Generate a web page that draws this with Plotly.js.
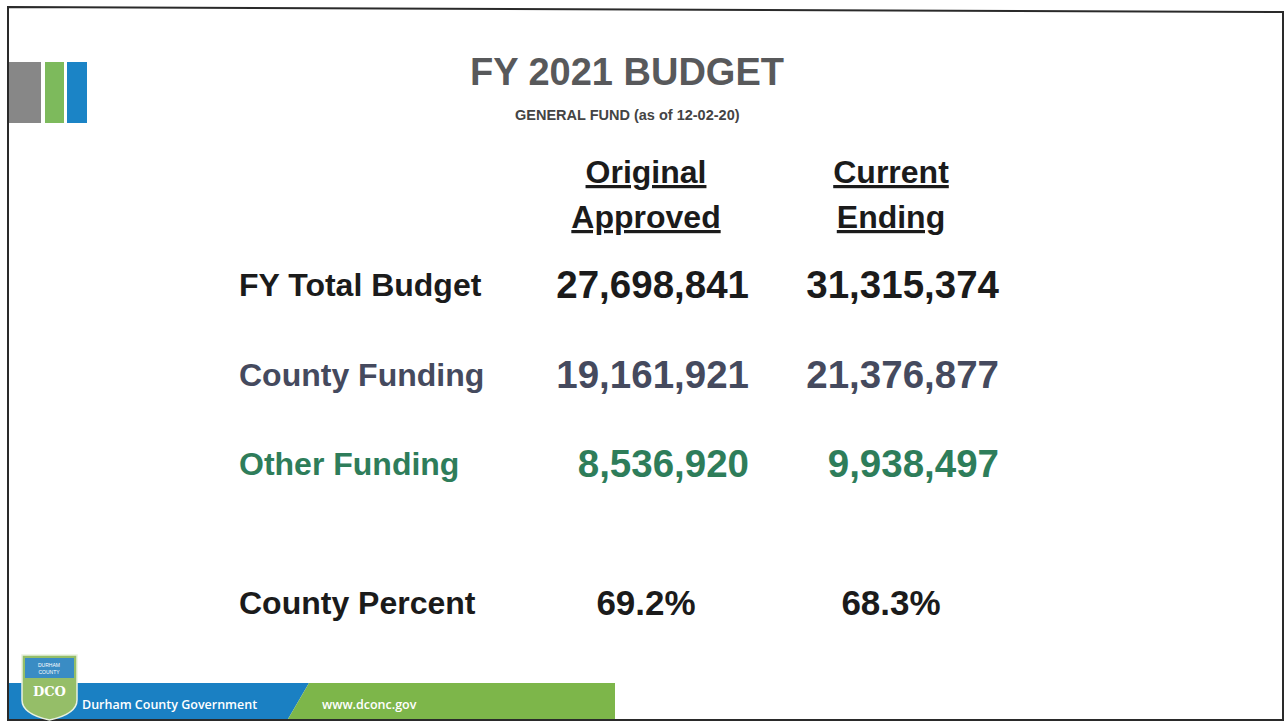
<!DOCTYPE html>
<html>
<head>
<meta charset="utf-8">
<script src="https://cdn.plot.ly/plotly-3.0.1.min.js"></script>
<style>
  html, body { margin: 0; padding: 0; background: #fff; }
  #chart { width: 1286px; height: 724px; }
</style>
</head>
<body>
<div id="chart"></div>
<script>
// values
var rowLabels = ['FY Total Budget', 'County Funding', 'Other Funding'];
var originalApproved = [27698841, 19161921, 8536920];
var currentEnding = [31315374, 21376877, 9938497];
var headerTop = ['Original', 'Current'];
var headerBottom = ['Approved', 'Ending'];
var percentLabel = 'County Percent';
var countyPercent = [69.2, 68.3];

// slide geometry (pixels on a 1286x724 canvas)
var LABEL_X = 239;
var NUM_RIGHT = [749, 999];
var COL_CENTER = [646, 891];
var ROW_Y = [288, 378, 467];
var PCT_Y = 606;
var HEAD_Y = [175, 220];

var rowColors = ['#1b1b1b', '#454a5e', '#2e7d5a'];
var sans = 'Liberation Sans, Arial, sans-serif';

function fmt(v) { return v.toLocaleString('en-US'); }

var traces = [];

// row labels
traces.push({
    x: rowLabels.map(function () { return LABEL_X; }).concat([LABEL_X]),
    y: ROW_Y.concat([PCT_Y]),
    text: rowLabels.concat([percentLabel]),
    mode: 'text',
    textposition: 'middle right',
    textfont: {family: sans, size: 32, weight: 700, color: rowColors.concat(['#1b1b1b'])},
    hoverinfo: 'skip'
});

// the two money columns
[originalApproved, currentEnding].forEach(function (col, i) {
    traces.push({
        x: col.map(function () { return NUM_RIGHT[i]; }),
        y: ROW_Y,
        text: col.map(fmt),
        mode: 'text',
        textposition: 'middle left',
        textfont: {family: sans, size: 38.5, weight: 700, color: rowColors},
        hoverinfo: 'skip'
    });
});

// column headers, underlined
traces.push({
    x: COL_CENTER.concat(COL_CENTER),
    y: [HEAD_Y[0], HEAD_Y[0], HEAD_Y[1], HEAD_Y[1]],
    text: headerTop.concat(headerBottom),
    mode: 'text',
    textposition: 'middle center',
    textfont: {family: sans, size: 32, weight: 700, color: '#1b1b1b', lineposition: 'under'},
    hoverinfo: 'skip'
});

// county percent
traces.push({
    x: COL_CENTER,
    y: [PCT_Y, PCT_Y],
    text: countyPercent.map(function (v) { return v.toFixed(1) + '%'; }),
    mode: 'text',
    textposition: 'middle center',
    textfont: {family: sans, size: 35, weight: 700, color: '#1b1b1b'},
    hoverinfo: 'skip'
});

var shapes = [
    // slide frame
    {type: 'path', path: 'M8,7 L1283,12 L1283,720 L8,720 Z', line: {color: '#2a2a2a', width: 2}},
    // logo bars top-left
    {type: 'rect', x0: 9, x1: 41, y0: 62, y1: 123, fillcolor: '#878787', line: {width: 0}},
    {type: 'rect', x0: 45, x1: 64, y0: 62, y1: 123, fillcolor: '#7dba5c', line: {width: 0}},
    {type: 'rect', x0: 67, x1: 87, y0: 62, y1: 123, fillcolor: '#1b84c6', line: {width: 0}},
    // footer bands
    {type: 'path', path: 'M9,683 L309,683 L288,719 L9,719 Z', fillcolor: '#1a80c3', line: {width: 0}},
    {type: 'path', path: 'M309,683 L615,683 L615,719 L288,719 Z', fillcolor: '#7db64a', line: {width: 0}},
    // county shield
    {type: 'path', path: 'M22,655 L77,655 L77,700 Q77,714 49.5,720 Q22,714 22,700 Z',
        fillcolor: '#95be68', line: {color: '#e9f1e0', width: 1.5}},
    {type: 'rect', x0: 25, x1: 74, y0: 658, y1: 678, fillcolor: '#3a8cc4', line: {width: 0}}
];

var annotations = [
    {x: 627, y: 72, text: 'FY 2021 BUDGET', showarrow: false,
        font: {family: sans, size: 38, weight: 700, color: '#58595b'}},
    {x: 627, y: 115, text: 'GENERAL FUND (as of 12-02-20)', showarrow: false,
        font: {family: sans, size: 14.5, weight: 700, color: '#444'}},
    {x: 80, y: 704, text: 'Durham County Government', showarrow: false, xanchor: 'left',
        font: {family: 'Open Sans, sans-serif', size: 12.5, weight: 600, color: '#ffffff'}},
    {x: 320, y: 704, text: 'www.dconc.gov', showarrow: false, xanchor: 'left',
        font: {family: 'Open Sans, sans-serif', size: 12.5, weight: 600, color: '#ffffff'}},
    {x: 49, y: 691, text: 'DCO', showarrow: false,
        font: {family: 'DejaVu Serif, serif', size: 13, weight: 700, color: '#ffffff'}},
    {x: 49, y: 668, text: 'DURHAM<br>COUNTY', showarrow: false,
        font: {family: sans, size: 5, color: '#ffffff'}}
];

var layout = {
    width: 1286,
    height: 724,
    margin: {l: 0, r: 0, t: 0, b: 0},
    paper_bgcolor: '#ffffff',
    plot_bgcolor: '#ffffff',
    showlegend: false,
    xaxis: {range: [0, 1286], visible: false, fixedrange: true},
    yaxis: {range: [724, 0], visible: false, fixedrange: true},
    shapes: shapes,
    annotations: annotations
};

Plotly.newPlot('chart', traces, layout, {staticPlot: true});
</script>
</body>
</html>
